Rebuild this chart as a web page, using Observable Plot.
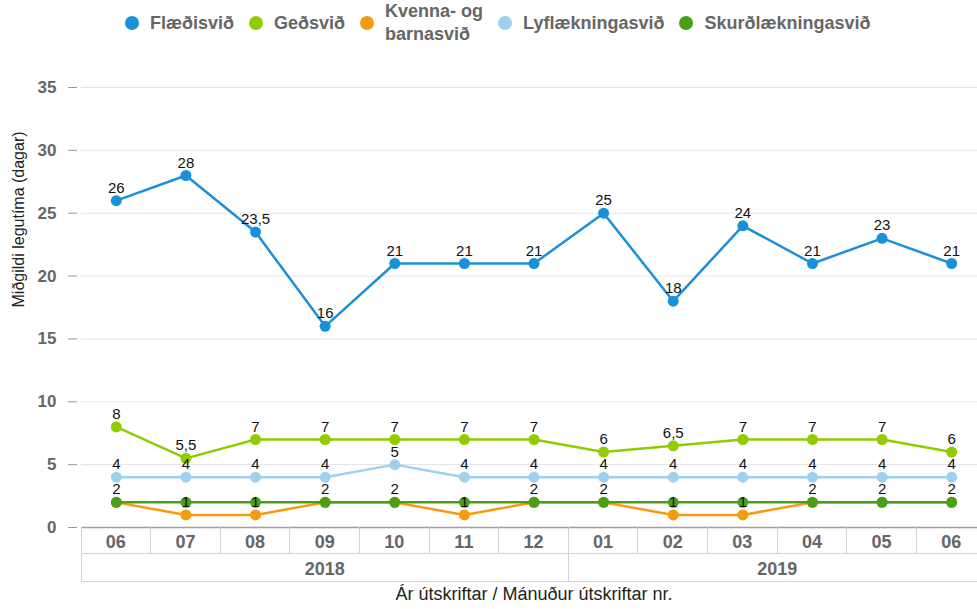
<!DOCTYPE html>
<html><head><meta charset="utf-8">
<script src="https://cdn.jsdelivr.net/npm/d3@7"></script>
<script src="https://cdn.jsdelivr.net/npm/@observablehq/plot@0.6"></script>
<style>
html,body{margin:0;padding:0;background:#fff;overflow:hidden;width:977px;height:609px}
#wrap{position:relative;width:977px;height:609px;overflow:hidden}
#chart{width:986px;height:609px}
#chart svg{max-width:none !important}
#legend{position:absolute;top:0;left:125px;height:46px;display:flex;align-items:center;font-family:"Liberation Sans",Arial,sans-serif;font-weight:bold;font-size:18px;color:#666;line-height:23px;z-index:2}
.item{display:flex;align-items:center;margin-right:15px;white-space:pre-line}
.dot{width:14px;height:14px;border-radius:50%;margin-right:11px;flex:none}
</style></head><body><div id="wrap"><div id="legend"></div><div id="chart"></div></div>
<script>
const months = ["06","07","08","09","10","11","12","01","02","03","04","05","06"];
const years  = ["2018","2018","2018","2018","2018","2018","2018","2019","2019","2019","2019","2019","2019"];
const seriesNames = ["Flæðisvið","Geðsvið","Kvenna- og barnasvið","Lyflækningasvið","Skurðlækningasvið"];
const flaedisvid = [26,28,23.5,16,21,21,21,25,18,24,21,23,21];
const gedsvid    = [8,5.5,7,7,7,7,7,6,6.5,7,7,7,6];
const kvenna     = [2,1,1,2,2,1,2,2,1,1,2,2,2];
const lyf        = [4,4,4,4,5,4,4,4,4,4,4,4,4];
const skurd      = [2,2,2,2,2,2,2,2,2,2,2,2,2];
const colors = ["#1a90d8","#8fcc00","#f59b0f","#9fd0ef","#4a9f1a"];
const showLabels = [true,true,true,true,false];
const yTicks = [0,5,10,15,20,25,30,35];
const yTitle = "Miðgildi legutíma (dagar)";
const xTitle = "Ár útskriftar / Mánuður útskriftar nr.";

const seriesValues = [flaedisvid, gedsvid, kvenna, lyf, skurd];
const keys = months.map((m, i) => years[i] + "-" + m);
const data = [];
seriesValues.forEach((vals, s) => vals.forEach((v, i) => data.push({s, series: seriesNames[s], key: keys[i], value: v})));
const fmt = v => String(v).replace(".", ",");
const font = "'Liberation Sans', Arial, sans-serif";

// legend
const legend = document.getElementById("legend");
seriesNames.forEach((name, s) => {
  const it = document.createElement("div");
  it.className = "item";
  const dot = document.createElement("span");
  dot.className = "dot";
  dot.style.background = colors[s];
  const t = document.createElement("span");
  t.textContent = name.replace("og ", "og\n");
  it.appendChild(dot); it.appendChild(t);
  legend.appendChild(it);
});

function table(index, scales, values, dims) {
  const x = scales.x;
  const n = keys.length;
  const step = x(keys[1]) - x(keys[0]);
  const off = x(keys[0]) - dims.marginLeft;
  const left = i => i < n ? x(keys[i]) - off : x(keys[n - 1]) - off + step;
  const top = dims.height - dims.marginBottom;
  const row1 = top + 26, row2 = top + 54;
  const g = d3.create("svg:g");
  const border = "#d2d2d2";
  for (let i = 0; i <= n; i++) {
    const yearEdge = i === 0 || i === n || years[i] !== years[i - 1];
    g.append("line").attr("x1", left(i)).attr("x2", left(i)).attr("y1", top).attr("y2", yearEdge ? row2 : row1)
      .attr("stroke", border).attr("stroke-width", 1).attr("shape-rendering", "crispEdges");
  }
  [row1, row2].forEach(yy => g.append("line").attr("x1", left(0)).attr("x2", left(n)).attr("y1", yy).attr("y2", yy)
      .attr("stroke", border).attr("stroke-width", 1).attr("shape-rendering", "crispEdges"));
  for (let i = 0; i < n; i++) {
    g.append("text").attr("x", left(i) + step / 2).attr("y", top + 21).attr("text-anchor", "middle")
      .attr("font-size", 18).attr("font-weight", "bold").attr("fill", "#666").text(months[i]);
  }
  let start = 0;
  for (let i = 1; i <= n; i++) {
    if (i === n || years[i] !== years[start]) {
      g.append("text").attr("x", (left(start) + left(i)) / 2).attr("y", top + 48).attr("text-anchor", "middle")
        .attr("font-size", 18).attr("font-weight", "bold").attr("fill", "#666").text(years[start]);
      start = i;
    }
  }
  return g.node();
}

const marks = [
  Plot.gridY(yTicks, {stroke: "#e4e4e4", strokeOpacity: 1}),
  Plot.axisY(yTicks, {tickSize: 9, tickPadding: 12, dx: -4, stroke: "#999", fill: "#666", fontWeight: "bold", fontSize: 17,
    fontFamily: "'Liberation Sans Narrow', 'Arial Narrow', 'Liberation Sans', sans-serif", label: null}),
  Plot.ruleY([0], {stroke: "#a0a0a0", strokeWidth: 1.5}),
  table
];
seriesNames.forEach((name, s) => {
  const d = data.filter(r => r.s === s);
  marks.push(Plot.line(d, {x: "key", y: "value", stroke: colors[s], strokeWidth: 2.5}));
  marks.push(Plot.dot(d, {x: "key", y: "value", fill: colors[s], r: 5.5}));
});
marks.push(Plot.text(data.filter(r => showLabels[r.s]), {x: "key", y: "value", text: r => fmt(r.value), dy: -8, lineAnchor: "bottom", fontSize: 15, fill: "#111"}));
marks.push(Plot.text([yTitle], {text: d => d, frameAnchor: "left", rotate: -90, dx: -63, fontSize: 16, fill: "#222"}));
marks.push(Plot.text([xTitle], {text: d => d, frameAnchor: "bottom", dy: 72, fontSize: 18, fill: "#222"}));

const chart = Plot.plot({
  width: 986, height: 609,
  marginLeft: 81, marginRight: 0, marginTop: 87, marginBottom: 82,
  style: {fontFamily: font, background: "white", overflow: "visible", maxWidth: "none"},
  x: {type: "band", domain: keys, padding: 0, round: false, axis: null},
  y: {domain: [0, 35], axis: null},
  marks
});
document.getElementById("chart").appendChild(chart);
</script></body></html>
